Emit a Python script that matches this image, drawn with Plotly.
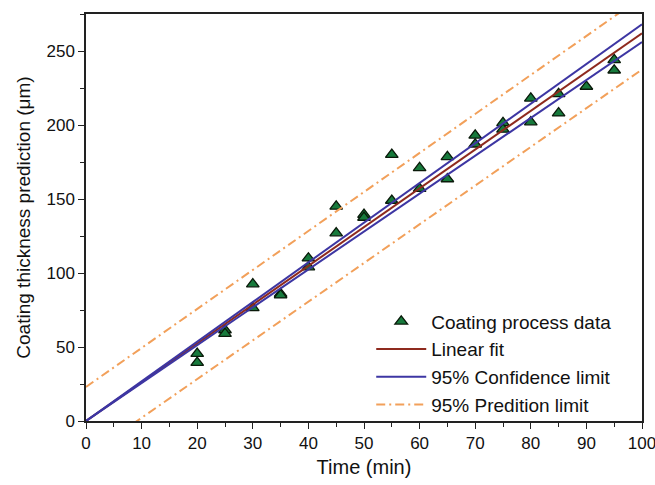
import plotly.graph_objects as go

# Measured coating thickness vs. deposition time
time_min = [20, 20, 25, 25, 30, 30, 35, 35, 40, 40, 45, 45, 50, 50, 55, 55,
            60, 60, 65, 65, 70, 70, 75, 75, 80, 80, 85, 85, 90, 95, 95]
thickness_um = [45.5, 39.5, 61.5, 59, 92.5, 76.5, 86, 85, 110, 104, 145, 127,
                139.5, 137.5, 180, 149, 171, 157, 178.5, 163.5, 193, 187,
                201.5, 197, 218, 202, 221, 208, 226, 244, 237]

# Fit and band end points (straight lines through the time range)
line_x = [0, 100]
fit_y = [0, 262]
conf_upper = [0, 268]
conf_lower = [0, 256]
pred_upper = [23, 286.5]
pred_lower = [-24, 237.5]

FONT = "Liberation Sans, Arial, sans-serif"
RED = "#8e2a1e"
BLUE = "#3d36a3"
ORANGE = "#f2a05a"

fig = go.Figure()

fig.add_trace(go.Scatter(
    x=time_min, y=thickness_um, mode="markers", name="Coating process data",
    marker=dict(symbol="triangle-up", size=11, color="#177a3c",
                line=dict(color="#0a1a0a", width=1.3)),
))
fig.add_trace(go.Scatter(
    x=line_x, y=fit_y, mode="lines", name="Linear fit",
    line=dict(color=RED, width=2),
))
fig.add_trace(go.Scatter(
    x=line_x, y=conf_upper, mode="lines", name="95% Confidence limit",
    line=dict(color=BLUE, width=2),
))
fig.add_trace(go.Scatter(
    x=line_x, y=conf_lower, mode="lines", name="95% Confidence limit",
    line=dict(color=BLUE, width=2), showlegend=False,
))
fig.add_trace(go.Scatter(
    x=line_x, y=pred_upper, mode="lines", name="95% Predition limit",
    line=dict(color=ORANGE, width=2, dash="9px,4px,2px,4px"),
))
fig.add_trace(go.Scatter(
    x=line_x, y=pred_lower, mode="lines", name="95% Predition limit",
    line=dict(color=ORANGE, width=2, dash="9px,4px,2px,4px"), showlegend=False,
))

axis_common = dict(
    showline=True, linecolor="#222222", linewidth=1.5, mirror=True,
    showgrid=False, zeroline=False,
    ticks="outside", ticklen=6, tickwidth=1.3, tickcolor="#222222",
    tickfont=dict(family=FONT, size=17, color="#111111"),
    ticklabeloverflow="allow", automargin=False,
)

fig.update_layout(
    width=655, height=485,
    margin=dict(l=86, r=13, t=14, b=64),
    paper_bgcolor="white", plot_bgcolor="white",
    font=dict(family=FONT, color="#111111"),
    xaxis=dict(
        range=[0, 100], dtick=10, tick0=0,
        minor=dict(dtick=5, ticks="outside", ticklen=4, tickcolor="#222222"),
        title=dict(text="Time (min)", font=dict(family=FONT, size=20), standoff=8),
        **axis_common,
    ),
    yaxis=dict(
        range=[0, 275], dtick=50, tick0=0,
        minor=dict(dtick=25, ticks="outside", ticklen=4, tickcolor="#222222"),
        title=dict(text="Coating thickness prediction (μm)",
                   font=dict(family=FONT, size=19), standoff=11),
        **axis_common,
    ),
    legend=dict(
        x=0.513, y=-0.006, xanchor="left", yanchor="bottom",
        bgcolor="rgba(0,0,0,0)", borderwidth=0,
        font=dict(family=FONT, size=19, color="#111111"),
        itemwidth=50, tracegroupgap=0,
    ),
    showlegend=True,
)

fig.write_html("out.html")
